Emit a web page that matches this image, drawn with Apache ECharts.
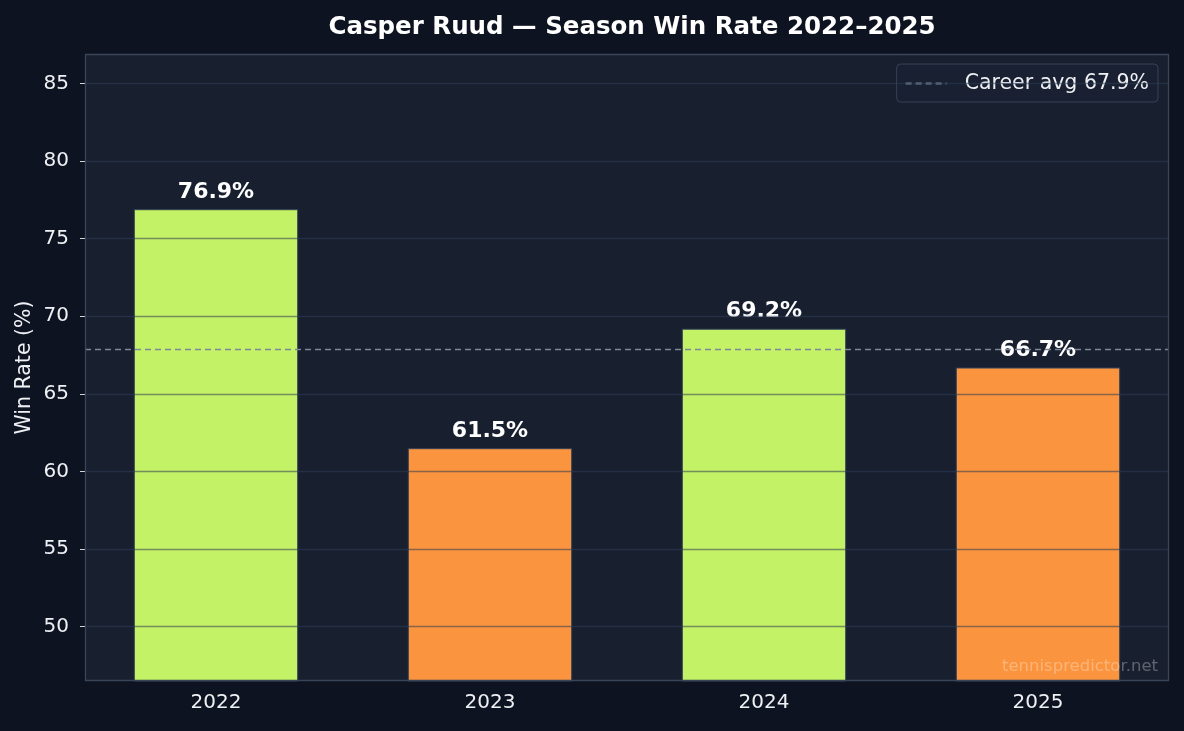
<!DOCTYPE html>
<html>
<head>
<meta charset="utf-8">
<script src="https://cdn.jsdelivr.net/npm/echarts@6/dist/echarts.min.js"></script>
<style>
  html, body { margin: 0; padding: 0; background: #0d1320; }
  #chart { width: 1184px; height: 731px; }
</style>
</head>
<body>
<div id="chart"></div>
<script>
const years = ["2022", "2023", "2024", "2025"];
const winRates = [76.9, 61.5, 69.2, 66.7];
const careerAvg = 67.9;
const yTicks = [50, 55, 60, 65, 70, 75, 80, 85];
const yMin = 46.5;
const yMax = 86.9;

const GREEN = "#c3f266";
const ORANGE = "#fb943e";
const FONT = "DejaVu Sans";

const chart = echarts.init(document.querySelector("#chart"));

chart.setOption({
  backgroundColor: "#0d1320",
  animation: false,
  textStyle: { fontFamily: FONT },
  title: {
    text: "Casper Ruud — Season Win Rate 2022–2025",
    left: 627, top: 10, textAlign: "center",
    textStyle: { color: "#ffffff", fontSize: 24.5, fontWeight: "bold", fontFamily: FONT }
  },
  legend: {
    right: 26, top: 64,
    padding: [9, 9, 8, 8],
    backgroundColor: "#182032",
    borderColor: "#364256",
    borderWidth: 1,
    borderRadius: 4,
    itemWidth: 41, itemHeight: 12, itemGap: 6,
    itemStyle: { opacity: 0 },
    textStyle: { color: "#eef0f4", fontSize: 20.5, fontFamily: FONT, padding: [0, 0, 0, 13] },
    data: [{ name: `Career avg ${careerAvg}%` }]
  },
  grid: [
    { left: 85, right: 15, top: 54, bottom: 50, show: true, backgroundColor: "#181f2f", borderWidth: 0 },
    { left: 79, right: 9, top: 54, bottom: 50 }
  ],
  xAxis: [
    { type: "value", gridIndex: 0, min: 0, max: 1, show: false },
    {
      type: "category", gridIndex: 1, data: years,
      axisLine: { show: false },
      axisTick: { alignWithLabel: true, length: 5, lineStyle: { color: "#d0d4da" } },
      axisLabel: { color: "#eef0f4", fontSize: 20, margin: 12, fontFamily: FONT }
    }
  ],
  yAxis: [
    {
      type: "value", gridIndex: 0, min: yMin, max: yMax, z: 5,
      name: "Win Rate (%)", nameLocation: "middle", nameGap: 50, nameMoveOverlap: false,
      nameTextStyle: { color: "#eef0f4", fontSize: 20.5, fontFamily: FONT },
      axisLine: { show: false },
      axisTick: { show: true, length: 5, customValues: yTicks, lineStyle: { color: "#d0d4da" } },
      axisLabel: { color: "#eef0f4", fontSize: 20, margin: 16, customValues: yTicks, fontFamily: FONT },
      splitLine: { show: true, lineStyle: { color: "rgba(45,60,82,0.55)", width: 1.4 } },
      splitNumber: 8
    },
    { type: "value", gridIndex: 1, min: yMin, max: yMax, show: false }
  ],
  graphic: [
    {
      type: "rect", z: 100,
      shape: { x: 85.5, y: 54.5, width: 1083, height: 626 },
      style: { fill: "none", stroke: "#3a4558", lineWidth: 1.3 }
    },
    {
      type: "text", z: 100, right: 26, top: 658,
      style: { text: "tennispredictor.net", fill: "rgba(255,255,255,0.3)", font: `16.5px "${FONT}"` }
    }
  ],
  series: [
    {
      type: "bar", xAxisIndex: 1, yAxisIndex: 1, barWidth: "60%", z: 2,
      data: winRates.map(v => ({
        value: v,
        itemStyle: { color: v >= careerAvg ? GREEN : ORANGE, borderColor: "#33425a", borderWidth: 1 }
      })),
      label: {
        show: true, position: "top", distance: 6,
        formatter: p => `${p.value}%`,
        color: "#ffffff", fontSize: 22, fontWeight: "bold", fontFamily: FONT
      }
    },
    {
      name: `Career avg ${careerAvg}%`,
      type: "line", xAxisIndex: 0, yAxisIndex: 0, data: [], symbol: "none", symbolSize: 0, z: 6,
      lineStyle: { color: "#7c8799", width: 1.4, type: [6, 4] },
      itemStyle: { color: "#7c8799" },
      markLine: {
        silent: true, symbol: "none", z: 6,
        label: { show: false },
        lineStyle: { color: "#7c8799", width: 1.4, type: [6, 4] },
        data: [{ yAxis: careerAvg }]
      }
    }
  ]
});
</script>
</body>
</html>
